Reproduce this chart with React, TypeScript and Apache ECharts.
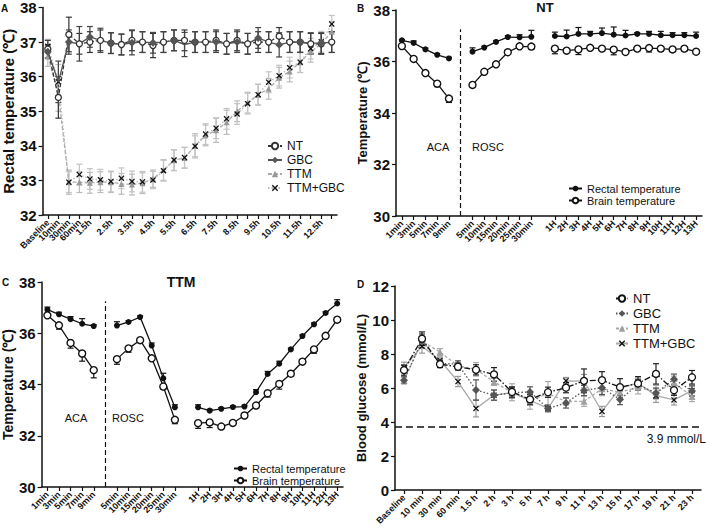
import React, { useEffect, useRef } from 'react';
import * as echarts from 'echarts';

// ---------- Panel A ----------
const catsA = ['Baseline', '10min', '30min', '60min', '1.5h', '2h', '2.5h', '3h', '3.5h', '4h', '4.5h', '5h', '5.5h', '6h', '6.5h', '7h', '7.5h', '8h', '8.5h', '9h', '9.5h', '10h', '10.5h', '11h', '11.5h', '12h', '12.5h', '13h'];
const ntA = [36.8, 35.4, 37.22, 36.95, 37.0, 37.05, 36.97, 36.93, 37.05, 37.0, 36.9, 37.0, 37.05, 37.05, 37.0, 37.0, 37.05, 36.95, 37.05, 36.95, 37.0, 37.0, 37.17, 37.0, 37.0, 36.95, 36.95, 37.0];
const gbcA = [36.72, 35.85, 37.0, 36.95, 37.15, 37.05, 36.97, 36.93, 36.98, 37.0, 36.98, 37.0, 37.05, 36.93, 37.0, 37.0, 37.0, 36.95, 37.0, 36.95, 37.12, 37.0, 36.92, 37.0, 37.0, 36.97, 36.97, 37.0];
const ttmA = [36.6, 35.5, 32.95, 32.95, 32.93, 32.95, 32.95, 32.9, 32.88, 32.92, 33.05, 33.3, 33.58, 33.65, 34.0, 34.3, 34.45, 34.68, 35.0, 35.25, 35.48, 35.65, 35.97, 36.15, 36.42, 36.72, 36.95, 37.3];
const ttmGbcA = [36.88, 35.85, 32.95, 33.17, 33.04, 33.02, 32.97, 33.06, 32.97, 32.96, 33.01, 33.28, 33.59, 33.66, 33.99, 34.34, 34.51, 34.78, 34.92, 35.22, 35.48, 35.84, 36.03, 36.26, 36.42, 36.81, 37.01, 37.52];
const ntAErr = [0.25, 0.6, 0.5, 0.3, 0.3, 0.3, 0.3, 0.3, 0.3, 0.3, 0.35, 0.3, 0.3, 0.3, 0.3, 0.3, 0.3, 0.3, 0.3, 0.3, 0.3, 0.3, 0.25, 0.3, 0.3, 0.3, 0.3, 0.3];
const gbcAErr = [0.2, 0.6, 0.35, 0.5, 0.3, 0.35, 0.3, 0.3, 0.35, 0.3, 0.3, 0.3, 0.3, 0.35, 0.3, 0.3, 0.3, 0.3, 0.3, 0.3, 0.3, 0.3, 0.35, 0.3, 0.3, 0.3, 0.3, 0.3];
const ttmAErr = [0.3, 0.5, 0.35, 0.3, 0.3, 0.3, 0.3, 0.3, 0.3, 0.3, 0.25, 0.3, 0.3, 0.3, 0.35, 0.3, 0.35, 0.35, 0.3, 0.3, 0.3, 0.3, 0.3, 0.3, 0.3, 0.3, 0.3, 0.3];
const ttmGbcAErr = [0.2, 0.5, 0.3, 0.3, 0.3, 0.3, 0.3, 0.3, 0.3, 0.3, 0.25, 0.3, 0.3, 0.3, 0.3, 0.3, 0.3, 0.3, 0.3, 0.3, 0.3, 0.3, 0.3, 0.3, 0.3, 0.3, 0.3, 0.25];

// ---------- Panels B & C ----------
const acaCats = ['1min', '3min', '5min', '7min', '9min'];
const roscCats = ['5min', '10min', '15min', '20min', '25min', '30min'];
const hourCats = ['1H', '2H', '3H', '4H', '5H', '6H', '7H', '8H', '9H', '10H', '11H', '12H', '13H'];

const rectBAca = [36.82, 36.72, 36.47, 36.26, 36.12];
const rectBRosc = [36.38, 36.54, 36.76, 36.95, 36.94, 36.96];
const rectBHours = [36.99, 36.97, 37.07, 37.07, 37.1, 37.04, 37.01, 37.07, 37.07, 37.02, 37.02, 37.02, 36.99];
const brainBAca = [36.6, 36.1, 35.55, 35.14, 34.56];
const brainBRosc = [35.09, 35.6, 35.89, 36.36, 36.59, 36.58];
const brainBHours = [36.5, 36.42, 36.47, 36.53, 36.5, 36.46, 36.37, 36.5, 36.52, 36.5, 36.47, 36.5, 36.38];
const rectBErrAca = [0.03, 0.08, 0.05, 0.05, 0.04];
const rectBErrRosc = [0.15, 0.05, 0.05, 0.05, 0.1, 0.25];
const rectBErrHours = [0.15, 0.25, 0.25, 0.1, 0.2, 0.3, 0.2, 0.05, 0.1, 0.15, 0.1, 0.1, 0.15];
const brainBErrAca = [0.05, 0.05, 0.05, 0.12, 0.15];
const brainBErrRosc = [0.1, 0.05, 0.05, 0.05, 0.05, 0.1];
const brainBErrHours = [0.2, 0.05, 0.2, 0.05, 0.05, 0.2, 0.05, 0.05, 0.15, 0.1, 0.05, 0.1, 0.05];

const rectCAca = [36.92, 36.74, 36.55, 36.37, 36.28];
const rectCRosc = [36.3, 36.44, 36.63, 35.52, 34.24, 33.11];
const rectCHours = [33.11, 32.98, 33.05, 33.12, 33.14, 33.7, 34.41, 34.81, 35.37, 35.89, 36.35, 36.79, 37.16];
const brainCAca = [36.7, 36.31, 35.62, 35.21, 34.56];
const brainCRosc = [34.99, 35.41, 35.73, 35.02, 33.92, 32.62];
const brainCHours = [32.49, 32.52, 32.36, 32.5, 32.79, 33.18, 33.66, 34.02, 34.42, 34.89, 35.37, 35.9, 36.53];
const rectCErrAca = [0.1, 0.08, 0.1, 0.2, 0.05];
const rectCErrRosc = [0.15, 0.05, 0.05, 0.1, 0.2, 0.1];
const rectCErrHours = [0.1, 0.05, 0.05, 0.05, 0.05, 0.1, 0.1, 0.1, 0.05, 0.05, 0.05, 0.05, 0.15];
const brainCErrAca = [0.05, 0.15, 0.2, 0.3, 0.3];
const brainCErrRosc = [0.2, 0.15, 0.1, 0.05, 0.1, 0.15];
const brainCErrHours = [0.2, 0.2, 0.05, 0.1, 0.05, 0.05, 0.15, 0.2, 0.1, 0.05, 0.15, 0.05, 0.05];

// ---------- Panel D ----------
const catsD = ['Baseline', '10 min', '30 min', '60 min', '1.5 h', '2 h', '3 h', '5 h', '7 h', '9 h', '11 h', '13 h', '15 h', '17 h', '19 h', '21 h', '23 h'];
const ntD = [7.05, 8.9, 7.4, 7.25, 7.07, 6.8, 5.77, 5.33, 5.75, 6.02, 6.42, 6.46, 6.05, 6.27, 6.83, 5.87, 6.63];
const gbcD = [6.46, 8.78, 7.45, 7.4, 5.88, 5.58, 5.72, 5.77, 4.8, 5.12, 5.85, 6.02, 5.32, 6.2, 5.7, 6.52, 5.82];
const ttmD = [6.45, 8.75, 8.12, 7.3, 7.1, 6.36, 5.75, 5.25, 5.68, 5.2, 5.22, 5.95, 5.75, 6.05, 5.75, 6.3, 5.5];
const ttmGbcD = [7.22, 8.45, 7.63, 6.38, 4.8, 5.58, 5.72, 5.28, 4.8, 6.42, 6.4, 4.62, 6.0, 6.28, 5.55, 5.3, 5.85];
const ntDErr = [0.3, 0.4, 0.2, 0.2, 0.3, 0.4, 0.3, 0.3, 0.3, 0.3, 0.7, 0.5, 0.5, 0.4, 0.6, 0.3, 0.4];
const gbcDErr = [0.2, 0.4, 0.2, 0.2, 0.6, 0.3, 0.3, 0.3, 0.2, 0.3, 0.3, 0.4, 0.3, 0.3, 0.3, 0.3, 0.3];
const ttmDErr = [0.2, 0.4, 0.2, 0.2, 0.4, 0.2, 0.5, 0.5, 0.7, 0.2, 0.3, 0.4, 0.4, 0.4, 0.4, 0.4, 0.3];
const ttmGbcDErr = [0.3, 0.4, 0.2, 0.3, 0.5, 0.3, 0.3, 0.3, 0.1, 0.2, 0.4, 0.3, 0.2, 0.3, 0.4, 0.3, 0.3];
const glucoseThreshold = 3.75;
const thresholdLabel = '3.9 mmol/L';

const FONT = '"Liberation Sans", Arial, sans-serif';
const X_SYMBOL = 'path://M0,1.5L1.5,0L5,3.5L8.5,0L10,1.5L6.5,5L10,8.5L8.5,10L5,6.5L1.5,10L0,8.5L3.5,5Z';

const catsBC = [...acaCats, '', ...roscCats, '', ...hourCats];
const joinSeg = (a: number[], b: number[], c: number[]) => [...a, null, ...b, null, ...c];

function errData(means: (number | null)[], lo: (number | null)[], hi: (number | null)[]) {
  const out: number[][] = [];
  means.forEach((m, i) => {
    if (m == null) return;
    out.push([i, m, (lo[i] as number) || 0, (hi[i] as number) || 0]);
  });
  return out;
}

function errSeries(idx: number, data: number[][], color: string, z = 1) {
  return {
    type: 'custom',
    xAxisIndex: idx,
    yAxisIndex: idx,
    z,
    silent: true,
    encode: { x: 0, y: 1 },
    data,
    renderItem: (params: any, api: any) => {
      const x = api.value(0);
      const m = api.value(1);
      const lo = api.value(2);
      const hi = api.value(3);
      const pTop = api.coord([x, m + hi]);
      const pBot = api.coord([x, m - lo]);
      const w = 3;
      const style = { stroke: color, lineWidth: 1.2, fill: 'none' };
      const children: any[] = [
        { type: 'line', shape: { x1: pTop[0], y1: pTop[1], x2: pBot[0], y2: pBot[1] }, style },
      ];
      if (hi > 0) children.push({ type: 'line', shape: { x1: pTop[0] - w, y1: pTop[1], x2: pTop[0] + w, y2: pTop[1] }, style });
      if (lo > 0) children.push({ type: 'line', shape: { x1: pBot[0] - w, y1: pBot[1], x2: pBot[0] + w, y2: pBot[1] }, style });
      return { type: 'group', children };
    },
  };
}

const axisLine = { lineStyle: { color: '#111', width: 1.5 } };
const axisTickBase = { length: 4, lineStyle: { color: '#111', width: 1.2 } };

function yAxis(idx: number, min: number, max: number, interval: number, name: string, nameSize: number, nameGap: number) {
  return {
    type: 'value',
    gridIndex: idx,
    min,
    max,
    interval,
    name,
    nameLocation: 'middle',
    nameGap,
    nameTextStyle: { fontFamily: FONT, fontSize: nameSize, fontWeight: 'bold', color: '#111' },
    axisLine: { show: true, ...axisLine },
    axisTick: { show: true, ...axisTickBase },
    splitLine: { show: false },
    axisLabel: { fontFamily: FONT, fontSize: 15, fontWeight: 'bold', color: '#111', margin: 6, hideOverlap: false },
  };
}

function xAxis(idx: number, cats: string[], tickEmpty: boolean, labelInterval: any, showLine = true) {
  return {
    type: 'category',
    gridIndex: idx,
    position: 'bottom',
    offset: 0,
    data: cats,
    boundaryGap: true,
    axisLine: { show: showLine, ...axisLine },
    axisTick: {
      show: showLine,
      ...axisTickBase,
      alignWithLabel: true,
      interval: tickEmpty ? 0 : (i: number, v: string) => v !== '',
    },
    splitLine: { show: false },
    axisLabel: {
      interval: labelInterval,
      rotate: 45,
      fontFamily: FONT,
      fontSize: 9,
      fontWeight: 'bold',
      color: '#111',
      margin: 6,
      hideOverlap: false,
    },
  };
}

function lineS(idx: number, name: string, data: (number | null)[], opts: any) {
  return {
    type: 'line',
    name,
    xAxisIndex: idx,
    yAxisIndex: idx,
    data,
    z: 3,
    connectNulls: false,
    ...opts,
  };
}

const legendText = (size: number) => ({ fontFamily: FONT, fontSize: size, color: '#111' });

export default function App() {
  const ref = useRef<HTMLDivElement>(null);
  useEffect(() => {
    document.body.style.margin = '0';
    if (!ref.current) return;
    const chart = echarts.init(ref.current, undefined, { renderer: 'svg' });

    const rectB = joinSeg(rectBAca, rectBRosc, rectBHours);
    const brainB = joinSeg(brainBAca, brainBRosc, brainBHours);
    const rectC = joinSeg(rectCAca, rectCRosc, rectCHours);
    const brainC = joinSeg(brainCAca, brainCRosc, brainCHours);
    const zeros = catsBC.map(() => 0);

    const vline = {
      symbol: 'none',
      silent: true,
      label: { show: false },
      lineStyle: { type: [5, 3], color: '#111', width: 1.2 },
      data: [[{ coord: [5, 30] }, { coord: [5, 37.25] }]],
    };

    const rectStyle = {
      symbol: 'circle',
      symbolSize: 6,
      lineStyle: { color: '#111', width: 1.3 },
      itemStyle: { color: '#111' },
    };
    const brainStyle = {
      symbol: 'circle',
      symbolSize: 7,
      lineStyle: { color: '#111', width: 1.3 },
      itemStyle: { color: '#fff', borderColor: '#111', borderWidth: 1.4 },
    };

    const option: any = {
      animation: false,
      textStyle: { fontFamily: FONT },
      grid: [
        { left: 38, top: 7, width: 299, height: 208 },
        { left: 396, top: 10, width: 306, height: 206 },
        { left: 37, top: 282, width: 306, height: 205 },
        { left: 395, top: 286, width: 306, height: 204 },
      ],
      xAxis: [
        xAxis(0, catsA, true, (i: number) => i % 2 === 0),
        xAxis(1, catsBC, false, 0),
        xAxis(2, catsBC, false, 0),
        xAxis(3, catsD, true, 0),
        // second label layer for panel A (odd early time points)
        xAxis(0, catsA, true, (i: number) => i === 1 || i === 3, false),
      ],
      yAxis: [
        yAxis(0, 32, 38, 1, 'Rectal temperature (℃)', 15, 20),
        yAxis(1, 30, 38, 2, 'Temperature (℃)', 13, 22),
        yAxis(2, 30, 38, 2, 'Temperature (℃)', 14, 22),
        yAxis(3, 0, 12, 2, 'Blood glucose (mmol/L)', 13, 22),
      ],
      legend: [
        {
          orient: 'vertical', left: 262, top: 135, itemGap: 2, itemWidth: 14, itemHeight: 8,
          textStyle: legendText(12),
          data: ['A:NT', 'A:GBC', 'A:TTM', 'A:TTM+GBC'],
          formatter: (n: string) => n.replace(/^[A-D]:/, ''),
        },
        {
          orient: 'vertical', left: 563, top: 178, itemGap: 1, itemWidth: 13, itemHeight: 7,
          textStyle: legendText(11),
          data: ['B:Rectal temperature', 'B:Brain temperature'],
          formatter: (n: string) => n.replace(/^[A-D]:/, ''),
        },
        {
          orient: 'vertical', left: 228, top: 458, itemGap: 1, itemWidth: 13, itemHeight: 7,
          textStyle: legendText(11),
          data: ['C:Rectal temperature', 'C:Brain temperature'],
          formatter: (n: string) => n.replace(/^[A-D]:/, ''),
        },
        {
          orient: 'vertical', left: 610, top: 287, itemGap: 2, itemWidth: 12, itemHeight: 8,
          textStyle: legendText(13),
          data: ['D:NT', 'D:GBC', 'D:TTM', 'D:TTM+GBC'],
          formatter: (n: string) => n.replace(/^[A-D]:/, ''),
        },
      ],
      graphic: [
        { type: 'text', left: 1, top: 3, style: { text: 'A', font: `bold 10px ${FONT}`, fill: '#111' } },
        { type: 'text', left: 357, top: 3, style: { text: 'B', font: `bold 10px ${FONT}`, fill: '#111' } },
        { type: 'text', left: 2, top: 277, style: { text: 'C', font: `bold 10px ${FONT}`, fill: '#111' } },
        { type: 'text', left: 357, top: 279, style: { text: 'D', font: `bold 10px ${FONT}`, fill: '#111' } },
        { type: 'text', x: 545, y: 1, style: { text: 'NT', font: `bold 13px ${FONT}`, fill: '#111', align: 'center' } },
        { type: 'text', x: 181, y: 275, style: { text: 'TTM', font: `bold 14px ${FONT}`, fill: '#111', align: 'center' } },
        { type: 'text', x: 438, y: 141, style: { text: 'ACA', font: `11px ${FONT}`, fill: '#111', align: 'center' } },
        { type: 'text', x: 488, y: 141, style: { text: 'ROSC', font: `11px ${FONT}`, fill: '#111', align: 'center' } },
        { type: 'text', x: 76, y: 412, style: { text: 'ACA', font: `11px ${FONT}`, fill: '#111', align: 'center' } },
        { type: 'text', x: 128, y: 412, style: { text: 'ROSC', font: `11px ${FONT}`, fill: '#111', align: 'center' } },
        { type: 'text', x: 706, y: 433, style: { text: thresholdLabel, font: `12px ${FONT}`, fill: '#111', align: 'right' } },
      ],
      series: [
        // Panel A error bars
        errSeries(0, errData(ttmA, ttmAErr, ttmAErr), '#bbb'),
        errSeries(0, errData(ttmGbcA, ttmGbcAErr, ttmGbcAErr), '#c4c4c4'),
        errSeries(0, errData(ntA, ntAErr, ntAErr), '#333', 2),
        errSeries(0, errData(gbcA, gbcAErr, gbcAErr), '#444', 2),
        // Panel A lines
        lineS(0, 'A:TTM', ttmA, {
          symbol: 'triangle', symbolSize: 6,
          lineStyle: { color: '#aaa', width: 1.3, type: [4, 2] },
          itemStyle: { color: '#999' },
        }),
        lineS(0, 'A:TTM+GBC', ttmGbcA, {
          symbol: X_SYMBOL, symbolSize: 6,
          lineStyle: { color: '#bbb', width: 1.3, type: [1.5, 2] },
          itemStyle: { color: '#111' },
        }),
        lineS(0, 'A:NT', ntA, {
          symbol: 'circle', symbolSize: 6, z: 4,
          lineStyle: { color: '#333', width: 1.3, type: [4, 2] },
          itemStyle: { color: '#fff', borderColor: '#333', borderWidth: 1.3 },
        }),
        lineS(0, 'A:GBC', gbcA, {
          symbol: 'diamond', symbolSize: 8, z: 4,
          lineStyle: { color: '#555', width: 1.4 },
          itemStyle: { color: '#555' },
        }),
        // Panel B
        errSeries(1, errData(rectB, zeros, joinSeg(rectBErrAca, rectBErrRosc, rectBErrHours)), '#111'),
        errSeries(1, errData(brainB, joinSeg(brainBErrAca, brainBErrRosc, brainBErrHours), zeros), '#111'),
        lineS(1, 'B:Rectal temperature', rectB, { ...rectStyle, markLine: vline }),
        lineS(1, 'B:Brain temperature', brainB, brainStyle),
        // Panel C
        errSeries(2, errData(rectC, zeros, joinSeg(rectCErrAca, rectCErrRosc, rectCErrHours)), '#111'),
        errSeries(2, errData(brainC, joinSeg(brainCErrAca, brainCErrRosc, brainCErrHours), zeros), '#111'),
        lineS(2, 'C:Rectal temperature', rectC, { ...rectStyle, markLine: vline }),
        lineS(2, 'C:Brain temperature', brainC, brainStyle),
        // Panel D
        errSeries(3, errData(ttmD, ttmDErr, ttmDErr), '#aaa'),
        errSeries(3, errData(ttmGbcD, ttmGbcDErr, ttmGbcDErr), '#999'),
        errSeries(3, errData(gbcD, gbcDErr, gbcDErr), '#555'),
        errSeries(3, errData(ntD, ntDErr, ntDErr), '#222'),
        lineS(3, 'D:TTM', ttmD, {
          symbol: 'triangle', symbolSize: 7,
          lineStyle: { color: '#aaa', width: 1.3, type: [3, 2] },
          itemStyle: { color: '#a0a0a0' },
        }),
        lineS(3, 'D:TTM+GBC', ttmGbcD, {
          symbol: X_SYMBOL, symbolSize: 6,
          lineStyle: { color: '#aaa', width: 1.3 },
          itemStyle: { color: '#111' },
          markLine: {
            symbol: 'none', silent: true, label: { show: false },
            lineStyle: { type: [7, 4], color: '#111', width: 1.5 },
            data: [{ yAxis: glucoseThreshold }],
          },
        }),
        lineS(3, 'D:GBC', gbcD, {
          symbol: 'diamond', symbolSize: 8,
          lineStyle: { color: '#555', width: 1.3, type: [1.5, 2] },
          itemStyle: { color: '#555' },
        }),
        lineS(3, 'D:NT', ntD, {
          symbol: 'circle', symbolSize: 7, z: 4,
          lineStyle: { color: '#111', width: 1.3, type: [6, 2, 1.5, 2] },
          itemStyle: { color: '#fff', borderColor: '#111', borderWidth: 1.3 },
        }),
      ],
    };
    chart.setOption(option);
    return () => chart.dispose();
  }, []);
  return <div ref={ref} style={{ width: 709, height: 528 }} />;
}
